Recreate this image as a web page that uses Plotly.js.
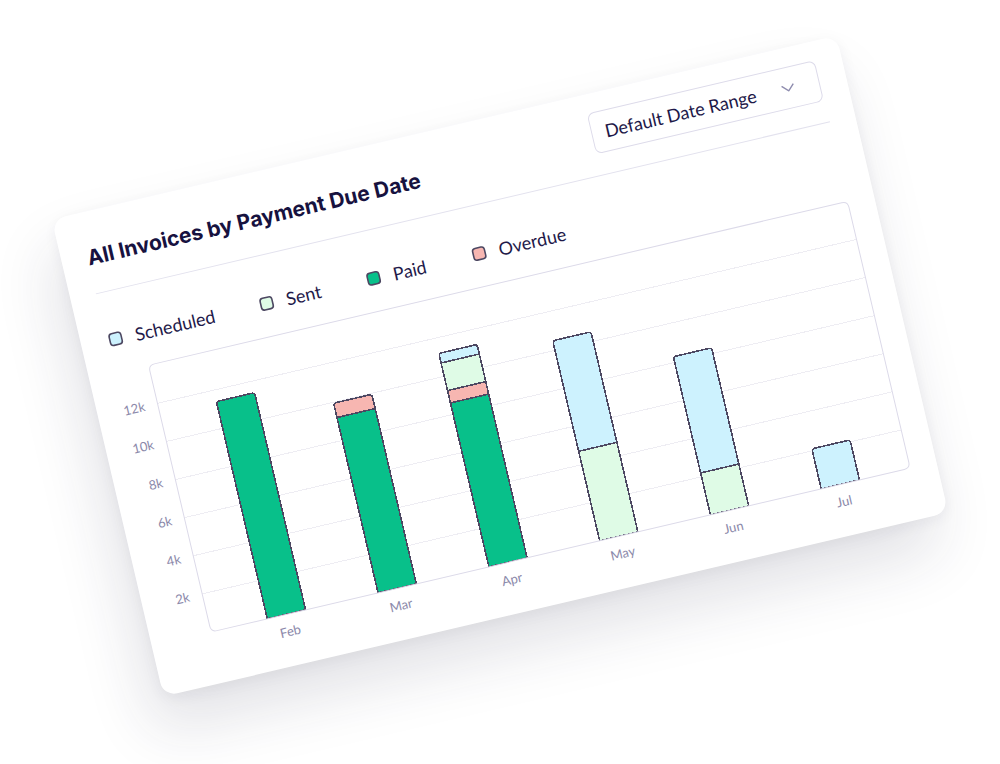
<!DOCTYPE html>
<html>
<head>
<meta charset="utf-8">
<script src="https://cdn.plot.ly/plotly-3.0.1.min.js"></script>
<style>
  html, body { margin:0; padding:0; width:1000px; height:764px; background:#ffffff; overflow:hidden; }
  #card {
    position:absolute; left:97px; top:121px; width:806px; height:490px;
    background:#ffffff; border-radius:14px;
    box-shadow: -14px 34px 60px rgba(40,40,70,0.13), 0 4px 14px rgba(40,40,70,0.06);
    transform: rotate(-13.2deg); transform-origin: 50% 50%;
  }
  #chart { position:absolute; left:0; top:0; width:806px; height:490px; }
  #divider { position:absolute; left:26px; top:82px; width:754px; height:1px; background:#e3e2ee; }
  #dropdown {
    position:absolute; left:545px; top:19px; width:234px; height:42px; box-sizing:border-box;
    border:1px solid #dddbea; border-radius:7px; background:#fff;
    font-family: Lato, sans-serif; font-size:18px; color:#1d1848;
    line-height:40px; padding-left:13px;
  }
  #chev { position:absolute; right:24px; top:16px; }
</style>
</head>
<body>
<div id="card">
  <div id="divider"></div>
  <div id="chart"></div>
  <div id="dropdown">Default Date Range<svg id="chev" width="14" height="8" viewBox="0 0 14 8"><polyline points="1,1 7,7 13,1" fill="none" stroke="#8e8cae" stroke-width="1.4"/></svg></div>
</div>
<script>
// ---- data ----
const months = ['Feb', 'Mar', 'Apr', 'May', 'Jun', 'Jul'];
const paid      = [11400, 9200, 8600, null, null, null];
const overdue   = [null, 750, 650, null, null, null];
const sent      = [null, null, 1450, 4700, 2200, null];
const scheduled = [null, null, 500, 5800, 6100, 2100];
const yTickVals = [2000, 4000, 6000, 8000, 10000, 12000];
const yTickText = ['2k', '4k', '6k', '8k', '10k', '12k'];
const chartTitle = 'All Invoices by Payment Due Date';

const outline = { color: '#4d4862', width: 1.6 };
const W = 718, H = 274, R = 6;

function barTrace(name, vals, color, legendId) {
  return {
    type: 'bar', name: name, x: months, y: vals, showlegend: true,
    marker: { color: color, line: outline },
    width: 0.345, legend: legendId, hoverinfo: 'skip'
  };
}

const traces = [
  barTrace('Paid', paid, '#08c08a', 'legend3'),
  barTrace('Overdue', overdue, '#f7b6b1', 'legend4'),
  barTrace('Sent', sent, '#dffbe6', 'legend2'),
  barTrace('Scheduled', scheduled, '#cdf2fe', 'legend')
];

const legFont = { family: 'Lato, sans-serif', size: 18, color: '#1f1a4a' };
function leg(x) {
  return { x: x, y: 1.12, xanchor: 'left', yanchor: 'middle', orientation: 'h',
           font: legFont, bgcolor: 'rgba(0,0,0,0)', borderwidth: 0 };
}

const boxPath = `M${R},0 L${W-R},0 Q${W},0 ${W},${R} L${W},${H-R} Q${W},${H} ${W-R},${H} L${R},${H} Q0,${H} 0,${H-R} L0,${R} Q0,0 ${R},0 Z`;

const layout = {
  width: 806, height: 490,
  margin: { l: 61, r: 27, t: 164, b: 52 },
  paper_bgcolor: 'rgba(0,0,0,0)', plot_bgcolor: '#ffffff',
  barmode: 'stack', barcornerradius: 3,
  showlegend: true,
  title: {
    text: chartTitle, xref: 'container', yref: 'container',
    x: 26/806, xanchor: 'left', y: 1 - 46/490, yanchor: 'middle',
    font: { family: 'Inter, sans-serif', size: 21, weight: 700, color: '#17123f' }
  },
  xaxis: {
    type: 'category', range: [-0.68, 5.63], showgrid: false, zeroline: false, showline: false,
    ticks: '', ticklabelstandoff: 8,
    tickfont: { family: 'Lato, sans-serif', size: 13, color: '#8b89aa' }
  },
  yaxis: {
    range: [0, 14000], tickvals: yTickVals, ticktext: yTickText,
    showgrid: true, gridcolor: '#eeedf3', gridwidth: 1, zeroline: false, showline: false,
    ticks: '', ticklabelstandoff: 12,
    tickfont: { family: 'Lato, sans-serif', size: 13, color: '#8b89aa' }
  },
  legend: leg(-0.064),
  legend2: leg(0.152),
  legend3: leg(0.305),
  legend4: leg(0.456),
  shapes: [{
    type: 'path', xref: 'paper', yref: 'paper', xsizemode: 'pixel', ysizemode: 'pixel',
    xanchor: 0, yanchor: 0, path: boxPath, line: { color: '#dcdae9', width: 1 },
    fillcolor: 'rgba(0,0,0,0)', layer: 'above'
  }]
};

Plotly.newPlot('chart', traces, layout, { displayModeBar: false, staticPlot: true });
</script>
</body>
</html>
